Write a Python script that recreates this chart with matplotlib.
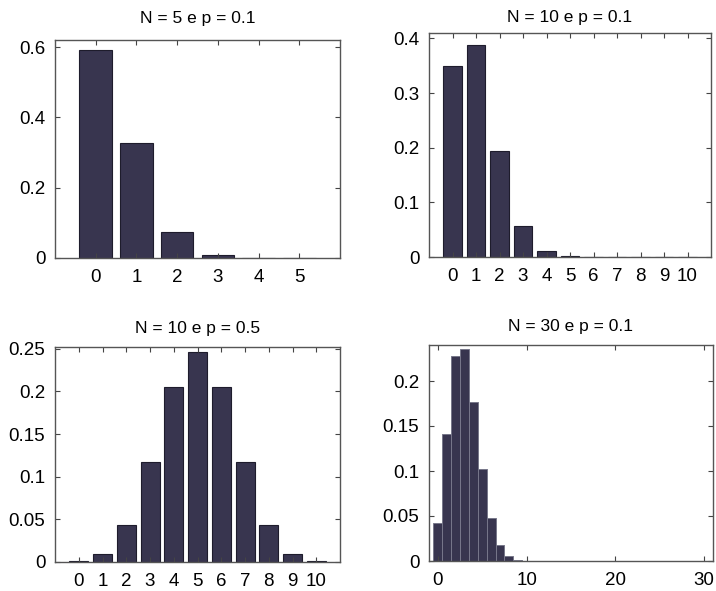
import matplotlib
matplotlib.use('Agg')
import matplotlib.pyplot as plt

plt.rcParams['font.family'] = ['Liberation Sans', 'DejaVu Sans']

# binomial probabilities, k = 0..N
k5 = list(range(6))
p_n5 = [0.5905, 0.3281, 0.0729, 0.0081, 0.0005, 0.00001]

k10 = list(range(11))
p_n10_01 = [0.3487, 0.3874, 0.1937, 0.0574, 0.0112, 0.0015, 0.0001, 0.0, 0.0, 0.0, 0.0]
p_n10_05 = [0.0010, 0.0098, 0.0439, 0.1172, 0.2051, 0.2461, 0.2051, 0.1172, 0.0439, 0.0098, 0.0010]

k30 = list(range(31))
p_n30 = [0.0424, 0.1413, 0.2277, 0.2361, 0.1771, 0.1023, 0.0474, 0.0180, 0.0058, 0.0016,
         0.0004, 0.0001] + [0.0] * 19

titles = ["N = 5 e p = 0.1", "N = 10 e p = 0.1", "N = 10 e p = 0.5", "N = 30 e p = 0.1"]

W, H = 716, 591
fig = plt.figure(figsize=(W / 100, H / 100), dpi=100)

def box(x0, y0, x1, y1):
    return fig.add_axes([x0 / W, (H - y1) / H, (x1 - x0) / W, (y1 - y0) / H])

bar_col = '#38354f'

def style(ax, title, pad):
    ax.set_title(title, fontsize=12.5, pad=pad)
    ax.tick_params(direction='in', length=3.5, top=True, right=True,
                   labelsize=13.5, color='#444444', width=0.8)
    ax.tick_params(axis='x', pad=8)
    ax.tick_params(axis='y', pad=7)
    for s in ax.spines.values():
        s.set_color('#555555')
        s.set_linewidth(1.0)

ax1 = box(55, 40, 340, 258)
ax1.bar(k5, p_n5, width=0.8, color=bar_col, edgecolor='#1e1c2c', linewidth=0.8)
ax1.set_xlim(-1, 6)
ax1.set_ylim(0, 0.62)
ax1.set_xticks(k5)
ax1.set_yticks([0, 0.2, 0.4, 0.6])
ax1.set_yticklabels(['0', '0.2', '0.4', '0.6'])
style(ax1, titles[0], 12)

ax2 = box(429, 33, 711, 257)
ax2.bar(k10, p_n10_01, width=0.8, color=bar_col, edgecolor='#1e1c2c', linewidth=0.8)
ax2.set_xlim(-1, 11)
ax2.set_ylim(0, 0.41)
ax2.set_xticks(k10)
ax2.set_yticks([0, 0.1, 0.2, 0.3, 0.4])
ax2.set_yticklabels(['0', '0.1', '0.2', '0.3', '0.4'])
style(ax2, titles[1], 8)

ax3 = box(55, 347, 340, 562)
ax3.bar(k10, p_n10_05, width=0.8, color=bar_col, edgecolor='#1e1c2c', linewidth=0.8)
ax3.set_xlim(-1, 11)
ax3.set_ylim(0, 0.252)
ax3.set_xticks(k10)
ax3.set_yticks([0, 0.05, 0.1, 0.15, 0.2, 0.25])
ax3.set_yticklabels(['0', '0.05', '0.1', '0.15', '0.2', '0.25'])
style(ax3, titles[2], 10)

ax4 = box(429, 345, 713, 561)
ax4.bar(k30, p_n30, width=1.0, color=bar_col, edgecolor='#77778a', linewidth=0.7)
ax4.set_xlim(-1, 31)
ax4.set_ylim(0, 0.24)
ax4.set_xticks([0, 10, 20, 30])
ax4.set_yticks([0, 0.05, 0.1, 0.15, 0.2])
ax4.set_yticklabels(['0', '0.05', '0.1', '0.15', '0.2'])
style(ax4, titles[3], 10)

plt.savefig("out.png", dpi=100)
